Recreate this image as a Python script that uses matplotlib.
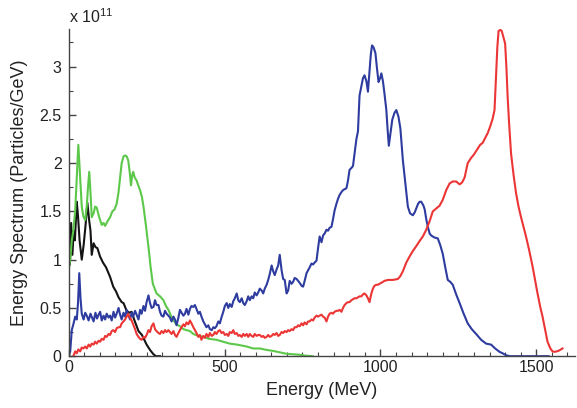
import matplotlib
matplotlib.use("Agg")
import matplotlib.pyplot as plt
from matplotlib.ticker import MultipleLocator, FormatStrFormatter

plt.rcParams['font.family'] = ['Liberation Sans', 'DejaVu Sans']

# Energy spectra, values in units of 1e11 particles/GeV, energies in MeV
black_E = [0, 4, 8, 12, 16, 20, 26, 30, 35, 42, 48, 54, 60, 66, 70, 74, 80, 86, 92,
           101, 110, 120, 133, 143, 152, 160, 170, 176, 186, 195, 202, 210, 224, 235,
           250, 262, 272, 280, 293]
black_V = [1.30, 0.95, 1.38, 1.05, 1.30, 1.20, 1.60, 1.45, 1.20, 1.00, 1.15, 1.35, 1.59,
           1.40, 1.30, 1.05, 1.17, 1.13, 1.12, 1.03, 0.97, 0.92, 0.82, 0.72, 0.67, 0.61,
           0.56, 0.55, 0.47, 0.45, 0.46, 0.38, 0.26, 0.22, 0.12, 0.06, 0.02, 0.0, 0.0]

green_E = [0, 5, 10, 15, 21, 26, 31, 36, 42, 47, 53, 58, 62, 66, 70, 74, 80, 85, 90, 97,
           106, 112, 117, 125, 133, 140, 147, 154, 160, 165, 170, 176, 181, 186, 191, 196,
           200, 204, 207, 212, 218, 222, 229, 235, 240, 248, 256, 263, 270, 276, 282, 293,
           304, 312, 320, 328, 336, 346, 357, 368, 378, 389, 400, 416, 432, 450, 474, 495,
           517, 540, 571, 592, 613, 635, 655, 677, 699, 720, 741, 760, 783]
green_V = [0.89, 1.00, 1.20, 1.30, 1.51, 1.85, 2.19, 1.90, 1.55, 1.45, 1.41, 1.55, 1.75,
           1.91, 1.70, 1.44, 1.48, 1.55, 1.54, 1.45, 1.36, 1.38, 1.35, 1.40, 1.44, 1.50,
           1.52, 1.58, 1.70, 1.85, 2.00, 2.07, 2.08, 2.07, 2.03, 1.90, 1.77, 1.88, 1.91,
           1.85, 1.82, 1.78, 1.72, 1.65, 1.55, 1.35, 1.13, 0.92, 0.75, 0.70, 0.65, 0.62,
           0.58, 0.52, 0.48, 0.42, 0.37, 0.33, 0.31, 0.28, 0.27, 0.26, 0.23, 0.21, 0.20,
           0.18, 0.17, 0.15, 0.13, 0.12, 0.10, 0.08, 0.08, 0.065, 0.055, 0.04, 0.025, 0.02,
           0.015, 0.005, 0.0]

blue_E = [0, 5, 10, 15, 21, 26, 30, 34, 38, 42, 48, 53, 58, 64, 70, 75, 80, 86, 91, 96,
          101, 106, 112, 117, 122, 128, 133, 138, 144, 149, 154, 160, 165, 170, 176, 181,
          186, 192, 197, 202, 207, 213, 218, 224, 229, 234, 240, 245, 250, 256, 261, 266,
          272, 277, 282, 288, 293, 298, 304, 309, 314, 320, 325, 330, 336, 341, 346, 352,
          357, 362, 368, 373, 378, 384, 389, 394, 400, 405, 410, 416, 421, 426, 432, 437,
          442, 448, 453, 459, 464, 469, 474, 480, 485, 490, 496, 501, 507, 512, 517, 523,
          528, 533, 539, 544, 549, 555, 560, 565, 571, 576, 581, 587, 592, 597, 603, 608,
          613, 619, 624, 629, 635, 640, 645, 651, 656, 661, 667, 672, 677, 683, 688, 693,
          699, 704, 709, 715, 720, 725, 731, 736, 741, 747, 752, 757, 763, 768, 773, 779,
          784, 789, 795, 800, 805, 811, 816, 821, 827, 832, 837, 843, 848, 853, 859, 864,
          869, 875, 880, 885, 891, 896, 901, 907, 912, 917, 923, 928, 933, 939, 944, 949,
          955, 960, 965, 969, 973, 978, 984, 989, 994, 999, 1003, 1008, 1013, 1019, 1023,
          1027, 1032, 1038, 1045, 1051, 1058, 1064, 1068, 1072, 1078, 1083, 1088, 1095,
          1104, 1110, 1115, 1121, 1126, 1131, 1138, 1142, 1147, 1152, 1158, 1163, 1173,
          1184, 1192, 1200, 1208, 1216, 1224, 1232, 1243, 1254, 1267, 1280, 1293, 1307,
          1323, 1339, 1355, 1368, 1382, 1392, 1403, 1415, 1540]
blue_V = [0.0, 0.05, 0.27, 0.33, 0.41, 0.38, 0.55, 0.86, 0.60, 0.44, 0.38, 0.45, 0.42,
          0.37, 0.44, 0.40, 0.36, 0.45, 0.39, 0.43, 0.46, 0.37, 0.42, 0.38, 0.44, 0.40,
          0.42, 0.37, 0.46, 0.40, 0.44, 0.50, 0.43, 0.38, 0.45, 0.41, 0.48, 0.42, 0.38,
          0.45, 0.41, 0.47, 0.43, 0.38, 0.48, 0.44, 0.52, 0.47, 0.56, 0.63, 0.55, 0.50,
          0.51, 0.58, 0.53, 0.53, 0.46, 0.42, 0.41, 0.47, 0.44, 0.42, 0.40, 0.36, 0.41,
          0.38, 0.32, 0.40, 0.48, 0.45, 0.42, 0.44, 0.49, 0.43, 0.49, 0.52, 0.51, 0.53,
          0.49, 0.44, 0.46, 0.41, 0.36, 0.33, 0.30, 0.32, 0.28, 0.27, 0.30, 0.29, 0.31,
          0.36, 0.34, 0.40, 0.46, 0.52, 0.55, 0.50, 0.54, 0.51, 0.57, 0.60, 0.65, 0.58,
          0.56, 0.60, 0.55, 0.53, 0.57, 0.62, 0.58, 0.62, 0.60, 0.66, 0.63, 0.66, 0.70,
          0.68, 0.65, 0.70, 0.74, 0.79, 0.85, 0.94, 0.88, 0.84, 0.90, 0.94, 1.05, 0.89,
          0.80, 0.79, 0.65, 0.68, 0.78, 0.75, 0.77, 0.81, 0.80, 0.78, 0.76, 0.73, 0.72,
          0.78, 0.86, 0.89, 0.92, 0.96, 0.95, 0.97, 0.99, 1.12, 1.24, 1.18, 1.25, 1.27,
          1.31, 1.30, 1.33, 1.34, 1.42, 1.51, 1.58, 1.63, 1.67, 1.70, 1.72, 1.73, 1.74,
          1.82, 1.93, 1.95, 1.97, 2.10, 2.25, 2.33, 2.70, 2.80, 2.88, 2.91, 2.85, 2.74,
          2.95, 3.12, 3.22, 3.20, 3.14, 2.98, 2.84, 2.88, 2.93, 2.85, 2.72, 2.55, 2.35,
          2.18, 2.30, 2.45, 2.52, 2.55, 2.48, 2.36, 2.20, 2.03, 1.85, 1.70, 1.55, 1.48,
          1.46, 1.49, 1.53, 1.58, 1.60, 1.60, 1.56, 1.52, 1.42, 1.34, 1.27, 1.25, 1.23,
          1.22, 1.15, 1.06, 0.92, 0.79, 0.77, 0.74, 0.64, 0.55, 0.44, 0.34, 0.28, 0.23,
          0.17, 0.13, 0.12, 0.08, 0.045, 0.03, 0.01, 0.0, 0.0]

red_E = [15, 21, 26, 31, 37, 42, 47, 53, 58, 64, 69, 74, 80, 85, 90, 96, 101, 106, 112,
         117, 122, 128, 133, 138, 143, 149, 154, 160, 165, 170, 176, 181, 186, 191, 196,
         202, 207, 213, 218, 224, 229, 234, 240, 245, 250, 256, 261, 266, 272, 277, 282,
         288, 293, 298, 304, 309, 314, 320, 325, 330, 336, 341, 346, 352, 357, 362, 368,
         373, 378, 384, 389, 394, 400, 405, 410, 416, 421, 426, 432, 437, 442, 448, 453,
         459, 464, 469, 474, 480, 485, 490, 496, 501, 507, 512, 517, 523, 528, 533, 539,
         544, 549, 555, 560, 565, 571, 576, 581, 587, 592, 597, 603, 608, 613, 619, 624,
         629, 635, 640, 645, 651, 656, 661, 667, 672, 677, 683, 688, 693, 699, 704, 709,
         715, 720, 725, 731, 736, 741, 747, 752, 757, 763, 768, 773, 779, 784, 789, 795,
         800, 805, 811, 816, 821, 827, 832, 837, 843, 848, 853, 859, 864, 869, 875, 880,
         885, 891, 896, 901, 907, 912, 917, 923, 928, 933, 939, 944, 949, 955, 960, 965,
         971, 976, 981, 987, 992, 997, 1003, 1013, 1024, 1040, 1056, 1064, 1072, 1083,
         1093, 1104, 1115, 1125, 1136, 1147, 1158, 1168, 1179, 1190, 1200, 1211, 1222,
         1232, 1243, 1254, 1262, 1270, 1280, 1290, 1300, 1312, 1320, 1328, 1336, 1344,
         1352, 1360, 1366, 1370, 1375, 1379, 1385, 1389, 1395, 1400, 1404, 1408, 1413,
         1419, 1427, 1435, 1443, 1451, 1459, 1467, 1477, 1488, 1496, 1504, 1512, 1520,
         1528, 1536, 1545, 1552, 1558, 1566, 1574, 1584]
red_V = [0.0, 0.05, 0.03, 0.07, 0.05, 0.09, 0.08, 0.10, 0.08, 0.12, 0.10, 0.13, 0.12,
         0.15, 0.13, 0.16, 0.15, 0.18, 0.17, 0.21, 0.20, 0.23, 0.22, 0.26, 0.27, 0.25,
         0.29, 0.30, 0.30, 0.34, 0.36, 0.38, 0.41, 0.44, 0.40, 0.37, 0.33, 0.28, 0.23,
         0.20, 0.18, 0.17, 0.20, 0.19, 0.22, 0.27, 0.25, 0.31, 0.34, 0.28, 0.26, 0.24,
         0.23, 0.26, 0.24, 0.27, 0.25, 0.27, 0.25, 0.23, 0.26, 0.22, 0.20, 0.24, 0.27,
         0.30, 0.33, 0.31, 0.35, 0.33, 0.37, 0.34, 0.30, 0.27, 0.24, 0.20, 0.22, 0.17,
         0.21, 0.19, 0.23, 0.20, 0.24, 0.21, 0.22, 0.25, 0.23, 0.26, 0.27, 0.24, 0.25,
         0.22, 0.23, 0.21, 0.25, 0.24, 0.27, 0.23, 0.24, 0.21, 0.22, 0.20, 0.23, 0.21,
         0.23, 0.20, 0.23, 0.21, 0.20, 0.23, 0.21, 0.22, 0.22, 0.20, 0.21, 0.19, 0.20,
         0.22, 0.20, 0.21, 0.23, 0.22, 0.24, 0.21, 0.22, 0.25, 0.24, 0.26, 0.25, 0.27,
         0.26, 0.28, 0.27, 0.30, 0.30, 0.32, 0.31, 0.34, 0.32, 0.35, 0.33, 0.36, 0.36,
         0.38, 0.37, 0.40, 0.42, 0.41, 0.42, 0.43, 0.41, 0.40, 0.36, 0.41, 0.44, 0.45,
         0.44, 0.46, 0.47, 0.47, 0.48, 0.46, 0.50, 0.53, 0.55, 0.56, 0.56, 0.58, 0.59,
         0.60, 0.60, 0.61, 0.62, 0.62, 0.64, 0.65, 0.63, 0.60, 0.56, 0.65, 0.70, 0.73,
         0.74, 0.74, 0.75, 0.76, 0.78, 0.79, 0.79, 0.80, 0.83, 0.88, 0.97, 1.03, 1.09,
         1.14, 1.19, 1.24, 1.31, 1.40, 1.50, 1.53, 1.56, 1.62, 1.72, 1.79, 1.81, 1.81,
         1.78, 1.80, 1.85, 2.00, 2.05, 2.09, 2.15, 2.19, 2.21, 2.26, 2.31, 2.38, 2.46,
         2.55, 2.85, 3.20, 3.37, 3.38, 3.37, 3.30, 3.24, 3.00, 2.69, 2.40, 2.10, 1.88,
         1.69, 1.55, 1.44, 1.34, 1.24, 1.10, 0.93, 0.79, 0.65, 0.52, 0.41, 0.28, 0.15,
         0.08, 0.05, 0.045, 0.05, 0.06, 0.08]

series = [
    (black_E, black_V, '#141414'),
    (green_E, green_V, '#5cc84a'),
    (blue_E, blue_V, '#2e3ca0'),
    (red_E, red_V, '#ec3535'),
]

fig = plt.figure(figsize=(5.77, 4.08), dpi=100)
ax = fig.add_axes([0.119, 0.127, 0.878, 0.802])

for E, V, col in series:
    ax.plot(E, V, color=col, lw=1.5, solid_joinstyle='round')

ax.set_xlim(0, 1625)
ax.set_ylim(0, 3.39)

ax.spines['top'].set_visible(False)
ax.spines['right'].set_visible(False)
for s in ('left', 'bottom'):
    ax.spines[s].set_color('#444444')
    ax.spines[s].set_linewidth(1.0)

ax.xaxis.set_major_locator(MultipleLocator(500))
ax.xaxis.set_minor_locator(MultipleLocator(50))
ax.yaxis.set_major_locator(MultipleLocator(0.5))
ax.yaxis.set_minor_locator(MultipleLocator(0.25))
ax.yaxis.set_major_formatter(FormatStrFormatter('%g'))

ax.tick_params(which='both', direction='in', color='#444444', labelsize=11.5,
               labelcolor='#222222')
ax.tick_params(which='major', length=5, width=1.0)
ax.tick_params(which='minor', length=3, width=0.8)
ax.tick_params(axis='x', pad=3)
ax.tick_params(axis='y', pad=5)

ax.set_xlabel('Energy (MeV)', fontsize=13, color='#222222', labelpad=5)
ax.set_ylabel('Energy Spectrum (Particles/GeV)', fontsize=13, color='#222222',
              labelpad=8)

ax.text(0.0, 1.017, r'x 10$^{\mathregular{11}}$', transform=ax.transAxes,
        fontsize=11.5, color='#222222', ha='left', va='baseline')

fig.savefig('out.png', dpi=100, facecolor='white')
